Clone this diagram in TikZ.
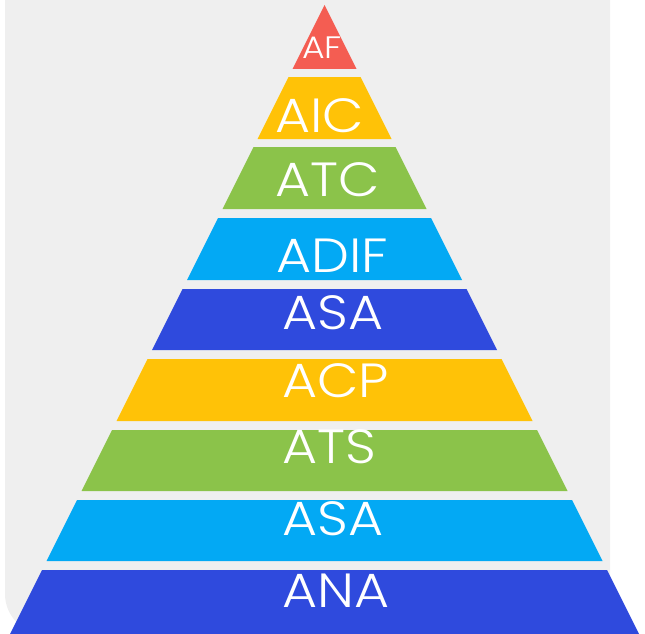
\documentclass[tikz,border=0pt]{standalone}
\usepackage{fontspec}
\setmainfont{Poppins}[UprightFont=* Light, FakeStretch=1.12]
\usetikzlibrary{positioning}
\definecolor{bggray}{HTML}{EFEFEF}
\definecolor{lvred}{HTML}{F45D52}
\definecolor{lvyellow}{HTML}{FFC207}
\definecolor{lvgreen}{HTML}{8BC34A}
\definecolor{lvcyan}{HTML}{03A9F4}
\definecolor{lvblue}{HTML}{2F4ADD}
\tikzset{
	lvtext/.style={anchor=base west, inner sep=0pt, text=white, font=\fontsize{48}{48}\selectfont},
}

\begin{document}
\begin{tikzpicture}[x=1pt, y=-1pt]
	\useasboundingbox (0,0) rectangle (645,634);
	\fill[bggray] (5,0) -- (5,594) arc[start angle=180, end angle=270, radius=40pt] -- (610,634) -- (610,0) -- cycle;
	
	% layers, top to bottom
	\fill[lvred] (324.5,5) -- (356.5,69) -- (292.5,69) -- cycle;
	\fill[lvyellow] (288.5,77) -- (360.5,77) -- (391.5,139) -- (257.5,139) -- cycle;
	\fill[lvgreen] (253.5,147) -- (395.5,147) -- (426.5,209) -- (222.5,209) -- cycle;
	\fill[lvcyan] (218,218) -- (431,218) -- (462,280) -- (187,280) -- cycle;
	\fill[lvblue] (182.5,289) -- (466.5,289) -- (497,350) -- (152,350) -- cycle;
	\fill[lvyellow] (147.5,359) -- (501.5,359) -- (532.5,421) -- (116.5,421) -- cycle;
	\fill[lvgreen] (112,430) -- (537,430) -- (567.5,491) -- (81.5,491) -- cycle;
	\fill[lvcyan] (77,500) -- (572,500) -- (602.5,561) -- (46.5,561) -- cycle;
	\fill[lvblue] (42,570) -- (607,570) -- (639,634) -- (10,634) -- cycle;
	
	\node(af)[lvtext, font=\fontsize{31}{31}\selectfont] at (302,59) {AF};
	\node(aic)[lvtext] at (275,132) {AIC};
	\node(atc)[lvtext] at (275,196) {ATC};
	\node(adif)[lvtext] at (276,272) {ADIF};
	\node(asa)[lvtext] at (282,329) {ASA};
	\node(acp)[lvtext] at (282,397) {ACP};
	\node(ats)[lvtext] at (282,463) {ATS};
	\node(asb)[lvtext] at (282,535) {ASA};
	\node(ana)[lvtext] at (282,607) {ANA};
\end{tikzpicture}
\end{document}
